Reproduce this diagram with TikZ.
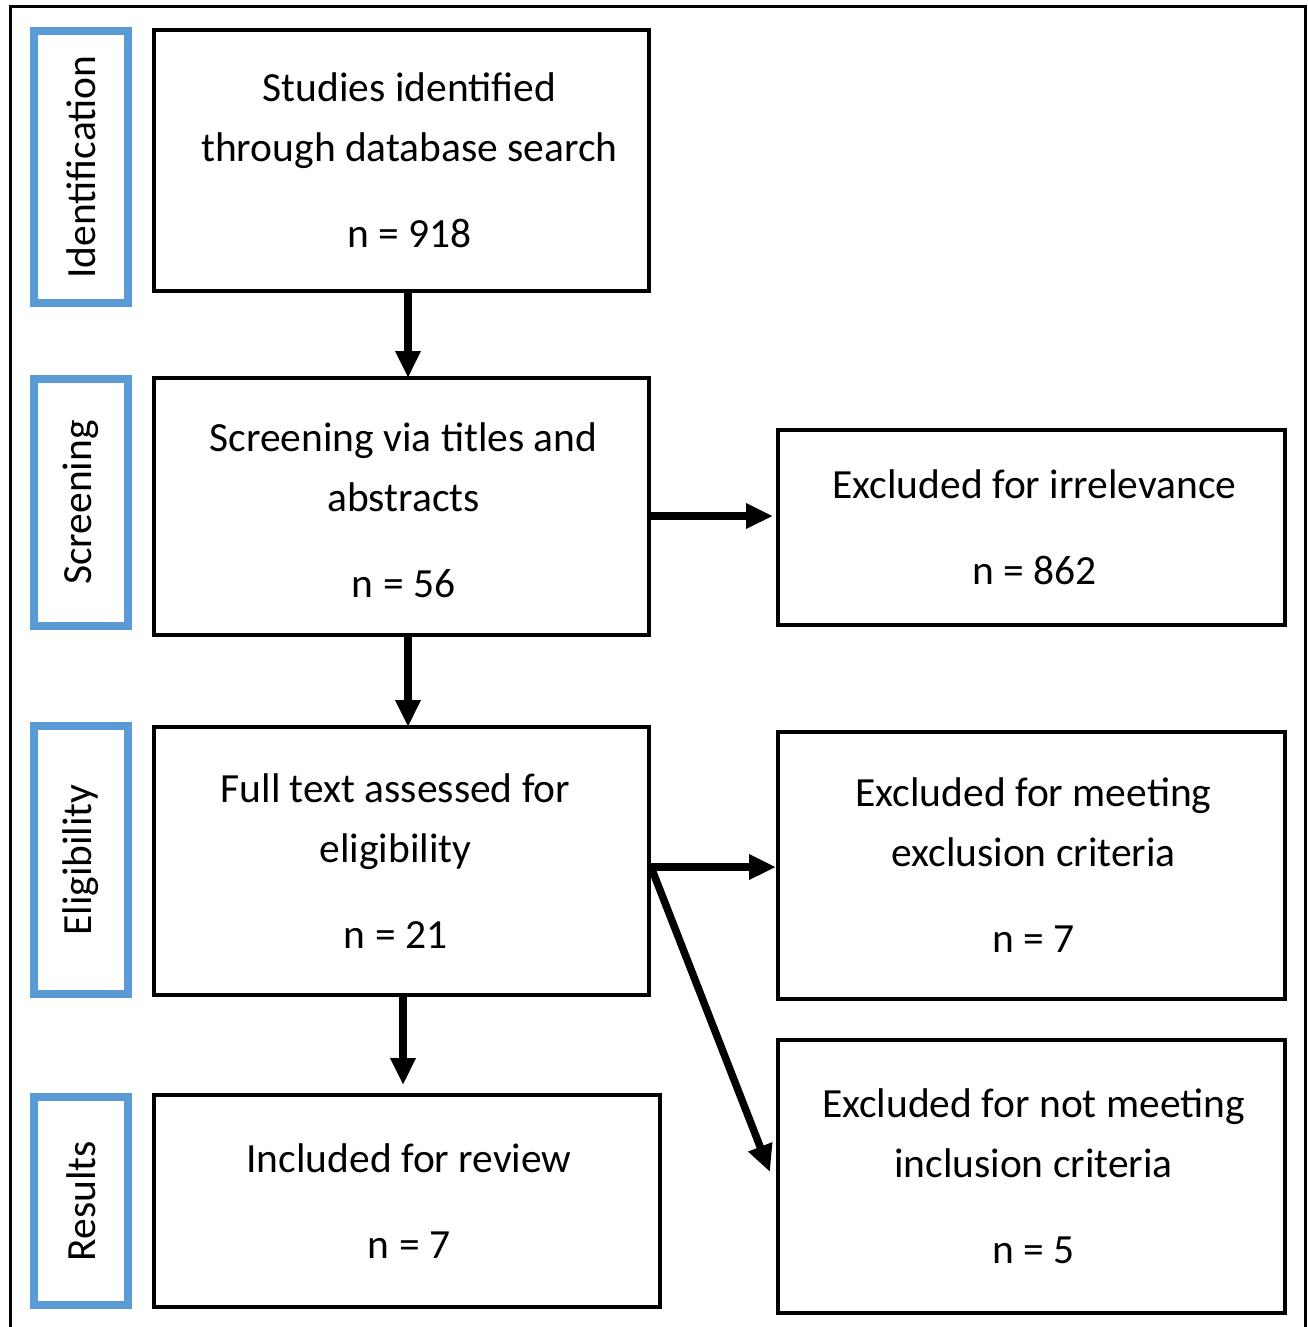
\documentclass[tikz,border=0pt]{standalone}
\usepackage{fontspec}
\setmainfont{Carlito}
\usetikzlibrary{arrows.meta,calc}
\definecolor{boxblue}{HTML}{5B9BD5}
\begin{document}
\begin{tikzpicture}[x=1pt,y=-1pt,
  stage/.style={draw=boxblue, line width=8pt, rectangle, rotate=90, inner sep=0pt, outer sep=0pt, font=\fontsize{41.5}{50}\selectfont},
  flowbox/.style={draw=black, line width=3.5pt, rectangle, align=center, inner sep=0pt, outer sep=0pt, font=\fontsize{41.5}{60}\selectfont},
  arr/.style={line width=7.5pt, -{Triangle[length=27pt,width=24pt]}}]
\useasboundingbox (0,0) rectangle (1307,1327);
\fill[white] (0,0) rectangle (1307,1327);
\draw[line width=3pt] (10,1340) -- (10,7) -- (1305,7) -- (1305,1340);
% stage labels
\node[stage, minimum width=272pt, minimum height=94pt] (l1) at (81,167) {Identification};
\node[stage, minimum width=247pt, minimum height=94pt] (l2) at (81,502.5) {Screening};
\node[stage, minimum width=268pt, minimum height=94pt] (l3) at (81,860) {Eligibility};
\node[stage, minimum width=208pt, minimum height=94pt] (l4) at (81,1201) {Results};
% main boxes
\node[flowbox, minimum width=495pt, minimum height=261pt] (s1) at (401.5,160.5)
  {\hspace*{16pt}Studies identified\\\hspace*{16pt}through database search\\[26pt]\hspace*{16pt}n = 918};
\node[flowbox, minimum width=495pt, minimum height=257pt] (s2) at (401.5,506.5)
  {\rule{0pt}{36pt}\hspace*{4pt}Screening via titles and\\\hspace*{4pt}abstracts\\[26pt]\hspace*{4pt}n = 56};
\node[flowbox, minimum width=495pt, minimum height=268pt] (s3) at (401.5,861)
  {\hspace*{-12pt}Full text assessed for\\\hspace*{-12pt}eligibility\\[26pt]\hspace*{-12pt}n = 21};
\node[flowbox, minimum width=506pt, minimum height=212pt] (s4) at (407,1201)
  {\hspace*{4pt}Included for review\\[26pt]\hspace*{4pt}n = 7};
% exclusion boxes
\node[flowbox, minimum width=507pt, minimum height=195pt] (e1) at (1031.5,527.5)
  {\hspace*{6pt}Excluded for irrelevance\\[26pt]\hspace*{6pt}n = 862};
\node[flowbox, minimum width=507pt, minimum height=267pt] (e2) at (1031.5,865.5)
  {\hspace*{4pt}Excluded for meeting\\\hspace*{4pt}exclusion criteria\\[26pt]\hspace*{4pt}n = 7};
\node[flowbox, minimum width=507pt, minimum height=273pt] (e3) at (1031.5,1176.5)
  {\hspace*{4pt}Excluded for not meeting\\\hspace*{4pt}inclusion criteria\\[26pt]\hspace*{4pt}n = 5};
% arrows
\draw[arr] ([xshift=6.5pt]s1.south) -- ([xshift=6.5pt]s2.north);
\draw[arr] ([xshift=6.5pt]s2.south) -- ([xshift=6.5pt]s3.north);
\draw[arr] ([xshift=1.5pt]s3.south) -- ([xshift=-4pt,yshift=10pt]s4.north);
\draw[arr, shorten >=5pt] ([yshift=-9.5pt]s2.east) -- ([yshift=-9.5pt]s2.east -| e1.west);
\coordinate (split) at ([yshift=-6pt]s3.east);
\draw[arr, shorten >=2pt] (split) -- (split -| e2.west);
\draw[arr] ([xshift=2pt]split) -- ([xshift=-8pt,yshift=4.5pt]e3.west);
\end{tikzpicture}
\end{document}
